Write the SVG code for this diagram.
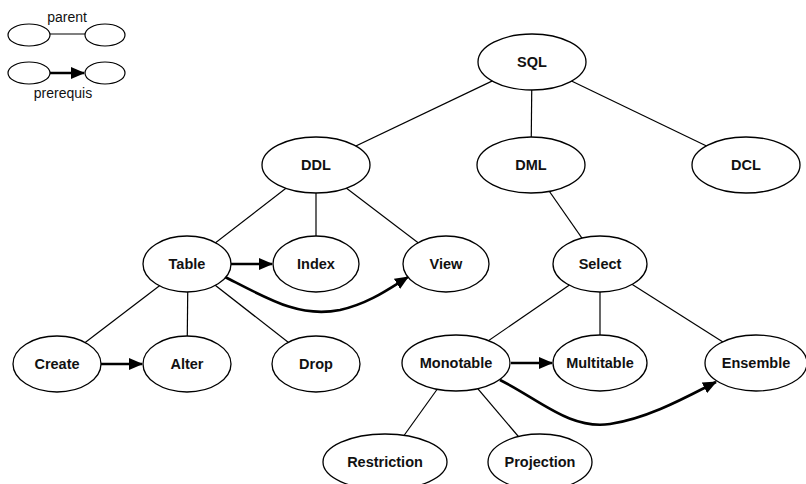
<svg xmlns="http://www.w3.org/2000/svg" width="806" height="484" viewBox="0 0 806 484">
<defs>
<marker id="ahb" markerWidth="14" markerHeight="12" refX="13" refY="6" orient="auto" markerUnits="userSpaceOnUse" viewBox="0 0 14 12">
<path d="M0,0 L14,6 L0,12 Z" fill="#000"/>
</marker>
</defs>
<style>
.n ellipse{fill:#fff;stroke:#000;stroke-width:1.3}
.n text{font-family:"Liberation Sans",Arial,sans-serif;font-weight:bold;font-size:14.5px;text-anchor:middle;dominant-baseline:central;fill:#111}
.e line{stroke:#000;stroke-width:1.2}
.a path{stroke:#000;stroke-width:2.6;fill:none;marker-end:url(#ahb)}
.lg text{font-family:"Liberation Sans",Arial,sans-serif;font-size:14px;text-anchor:middle;fill:#111}
.lg ellipse{fill:#fff;stroke:#000;stroke-width:1.2}
</style>
<rect width="806" height="484" fill="#fff"/>
<g id="legend" class="lg">
<text x="67" y="22">parent</text>
<line x1="50" y1="34" x2="85" y2="34" stroke="#000" stroke-width="1.2"/>
<ellipse cx="29" cy="35" rx="21" ry="11"/>
<ellipse cx="105" cy="35" rx="20" ry="11"/>
<path d="M50,73 L84,73" stroke="#000" stroke-width="2.6" marker-end="url(#ahb)"/>
<ellipse cx="29" cy="73" rx="21" ry="11"/>
<ellipse cx="105" cy="73" rx="20" ry="11"/>
<text x="63" y="98">prerequis</text>
</g>
<g id="connectors">
<g class="e">
<line x1="532" y1="62" x2="316" y2="165"/>
<line x1="532" y1="62" x2="531" y2="165"/>
<line x1="532" y1="62" x2="746" y2="165"/>
<line x1="316" y1="165" x2="188" y2="264"/>
<line x1="316" y1="165" x2="316" y2="264"/>
<line x1="316" y1="165" x2="446" y2="264"/>
<line x1="531" y1="165" x2="600" y2="264"/>
<line x1="188" y1="264" x2="57" y2="364"/>
<line x1="188" y1="264" x2="187" y2="364"/>
<line x1="188" y1="264" x2="316" y2="364"/>
<line x1="600" y1="264" x2="456" y2="363"/>
<line x1="600" y1="264" x2="600" y2="363"/>
<line x1="600" y1="264" x2="756" y2="363"/>
<line x1="456" y1="363" x2="385" y2="462"/>
<line x1="456" y1="363" x2="540" y2="462"/>
</g>
<g class="a">
<path d="M231,264 L272,264"/>
<path d="M101,364 L142,364"/>
<path d="M511,363 L552,363"/>
<path d="M225,277 C270,300 300,318 340,310 C370,303 390,288 408,277"/>
<path d="M500,380 C540,400 570,430 610,424 C650,418 690,395 716,382"/>
</g>
</g>
<g id="SQL" class="n"><ellipse cx="532" cy="62" rx="54" ry="28"/><text x="532" y="62">SQL</text></g>
<g id="DDL" class="n"><ellipse cx="316" cy="165" rx="54" ry="28"/><text x="316" y="165">DDL</text></g>
<g id="DML" class="n"><ellipse cx="531" cy="165" rx="54" ry="28"/><text x="531" y="165">DML</text></g>
<g id="DCL" class="n"><ellipse cx="746" cy="165" rx="54" ry="28"/><text x="746" y="165">DCL</text></g>
<g id="Table" class="n"><ellipse cx="187" cy="264" rx="44" ry="28"/><text x="187" y="264">Table</text></g>
<g id="Index" class="n"><ellipse cx="316" cy="264" rx="43" ry="28"/><text x="316" y="264">Index</text></g>
<g id="View" class="n"><ellipse cx="446" cy="264" rx="43" ry="28"/><text x="446" y="264">View</text></g>
<g id="Select" class="n"><ellipse cx="600" cy="264" rx="47" ry="28"/><text x="600" y="264">Select</text></g>
<g id="Create" class="n"><ellipse cx="57" cy="364" rx="44" ry="28"/><text x="57" y="364">Create</text></g>
<g id="Alter" class="n"><ellipse cx="187" cy="364" rx="44" ry="28"/><text x="187" y="364">Alter</text></g>
<g id="Drop" class="n"><ellipse cx="316" cy="364" rx="44" ry="28"/><text x="316" y="364">Drop</text></g>
<g id="Monotable" class="n"><ellipse cx="456" cy="363" rx="54" ry="28"/><text x="456" y="363">Monotable</text></g>
<g id="Multitable" class="n"><ellipse cx="600" cy="363" rx="47" ry="28"/><text x="600" y="363">Multitable</text></g>
<g id="Ensemble" class="n"><ellipse cx="756" cy="363" rx="51" ry="28"/><text x="756" y="363">Ensemble</text></g>
<g id="Restriction" class="n"><ellipse cx="385" cy="462" rx="62" ry="28"/><text x="385" y="462">Restriction</text></g>
<g id="Projection" class="n"><ellipse cx="540" cy="462" rx="52" ry="28"/><text x="540" y="462">Projection</text></g>
</svg>
